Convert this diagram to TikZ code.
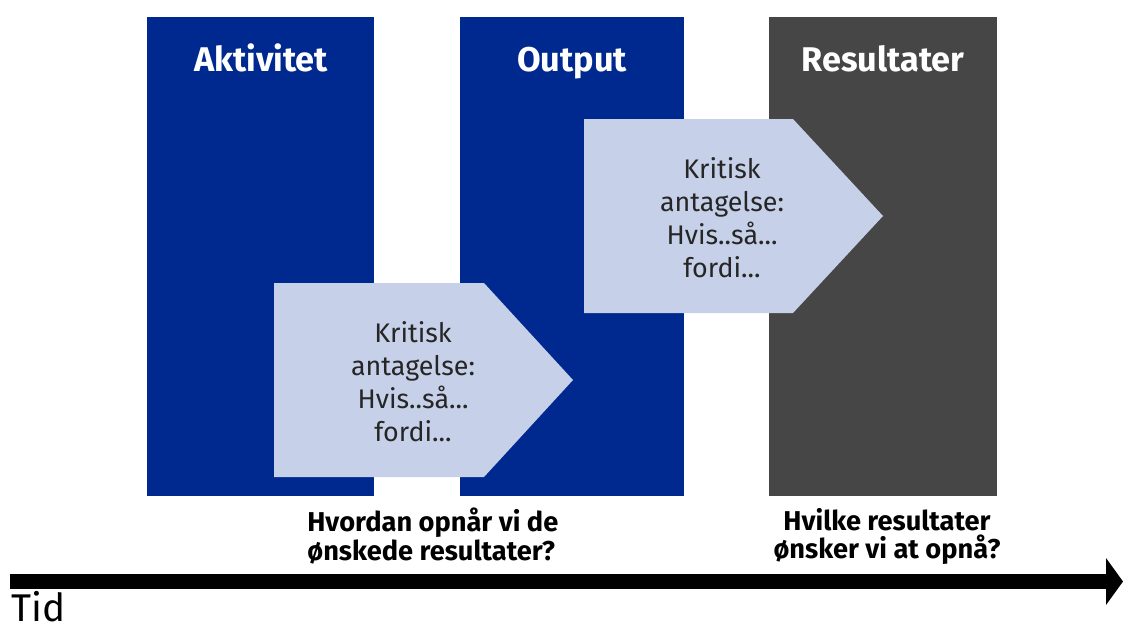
\documentclass[tikz,border=0pt]{standalone}
\usepackage{fontspec}
\setmainfont{Fira Sans}
\usetikzlibrary{calc}
\definecolor{kolblue}{RGB}{0,41,143}
\definecolor{kolgrey}{RGB}{70,70,70}
\definecolor{pilfill}{RGB}{198,208,232}
\tikzset{
	header/.style={text=white, font=\fontsize{19.5}{24}\selectfont\bfseries, anchor=base},
	question/.style={font=\fontsize{15.5}{16}\selectfont\bfseries, align=left, anchor=north west, inner sep=0pt},
	antagelse/.style={font=\fontsize{15.3}{18.8}\selectfont, align=center, text=black!85, inner sep=0pt}
}

\begin{document}
\begin{tikzpicture}[x=0.02cm, y=-0.02cm]
			%%%%% START %%%%%
			\useasboundingbox (0, 0) rectangle (1123, 626);
			
			% kolonner
			\fill[kolblue] (147, 17) rectangle (374, 496);
			\fill[kolblue] (460, 17) rectangle (684, 496);
			\fill[kolgrey] (769, 17) rectangle (997, 496);
			
			\node[header] (aktivitet) at (261, 71) {Aktivitet};
			\node[header] (output) at (572, 71) {Output};
			\node[header] (resultater) at (883, 71) {Resultater};
			
			% kritiske antagelser
			\fill[pilfill] (274, 283) -- (484, 283) -- (573, 380) -- (484, 477) -- (274, 477) -- cycle;
			\node[antagelse] (antagelse1) at (413, 382) {Kritisk\\antagelse:\\Hvis..så...\\fordi...};
			
			\fill[pilfill] (584, 119) -- (793, 119) -- (883, 216) -- (793, 313) -- (584, 313) -- cycle;
			\node[antagelse] (antagelse2) at (722, 218) {Kritisk\\antagelse:\\Hvis..så...\\fordi...};
			
			% spørgsmål
			\node[question] (hvordan) at (307, 508) {Hvordan opnår vi de\\ønskede resultater?};
			\node[question, align=center, anchor=north] (hvilke) at (887, 508) {Hvilke resultater\\ønsker vi at opnå?};
			
			% tidslinje
			\fill[black] (10, 574) rectangle (1108, 589);
			\fill[black] (1106, 558) -- (1123, 581.5) -- (1106, 605) -- cycle;
			\node[font=\fontsize{22}{24}\selectfont, anchor=base west, inner sep=0pt] (tid) at (11, 621) {Tid};
			
			%%%%% END %%%%%
		\end{tikzpicture}
\end{document}
